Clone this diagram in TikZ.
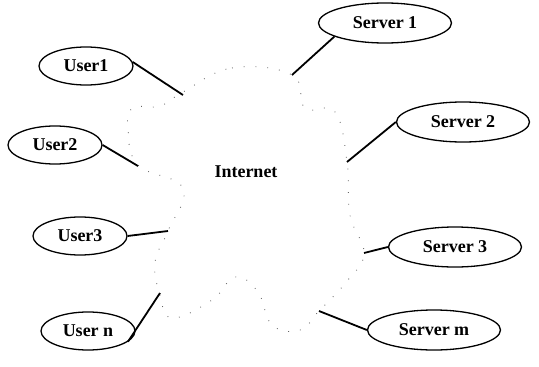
\documentclass[tikz,border=0pt]{standalone}
\usepackage{fontspec}
\setmainfont{Liberation Serif}
\usetikzlibrary{shapes.geometric}

\begin{document}
\begin{tikzpicture}[x=1pt,y=-1pt,
    every node/.style={font=\fontsize{18}{20}\selectfont\bfseries},
    user/.style={shape=ellipse, draw=black, line width=1.3pt, minimum width=94pt, minimum height=38pt, inner sep=0pt},
    server/.style={shape=ellipse, draw=black, line width=1.3pt, minimum width=133pt, minimum height=40pt, inner sep=0pt},
    link/.style={line width=1.8pt},
    cloudline/.style={black!60, line width=0.9pt, dash pattern=on 0.8pt off 11pt}]
    \useasboundingbox (0,0) rectangle (539,367);

    % the cloud
    \draw[cloudline] plot[smooth cycle, tension=0.7] coordinates {(183,92) (232,68) (292,75) (305,108) (335,112) (347,162) (350,215) (364,253) (348,280) (319,311) (300,330) (272,325) (258,292) (235,277) (212,300) (172,318) (160,295) (155,262) (168,231) (183,188) (138,165) (128,128) (133,108) (160,106)};
    \node (inet) at (246,172) {Internet};

    % users
    \node[user] (u1) at (86,66) {User1};
    \node[user] (u2) at (55,145) {User2};
    \node[user] (u3) at (80,236) {User3};
    \node[user] (un) at (88,331) {User n};

    % servers
    \node[server] (s1) at (385,23) {Server 1};
    \node[server] (s2) at (463,122) {Server 2};
    \node[server] (s3) at (455,247) {Server 3};
    \node[server] (sm) at (434,330) {Server m};

    % ends on the cloud
    \coordinate (cu1) at (183,95);
    \coordinate (cu2) at (138,166);
    \coordinate (cu3) at (168,231);
    \coordinate (cun) at (160,293);
    \coordinate (cs1) at (292,75);
    \coordinate (cs2) at (347,162);
    \coordinate (cs3) at (364,253);
    \coordinate (csm) at (319,311);

    \draw[link] (u1.5) -- (cu1);
    \draw[link] (u2.east) -- (cu2);
    \draw[link] (u3.east) -- (cu3);
    \draw[link] (un.-15) -- (cun);
    \draw[link] (s1.195) -- (cs1);
    \draw[link] (s2.west) -- (cs2);
    \draw[link] (s3.west) -- (cs3);
    \draw[link] (sm.west) -- (csm);
\end{tikzpicture}
\end{document}
